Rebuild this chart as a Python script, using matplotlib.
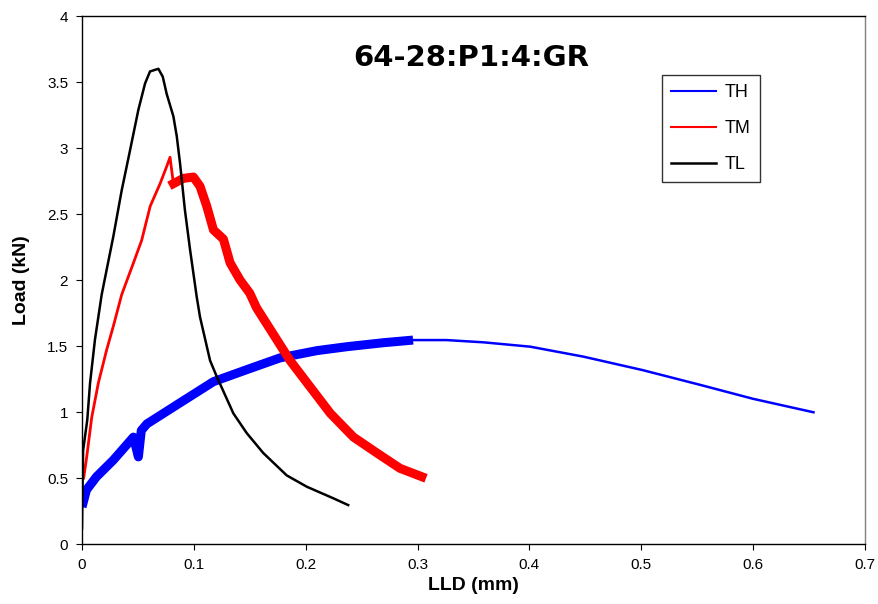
import numpy as np
import matplotlib.pyplot as plt

plt.rcParams['font.family'] = ['Liberation Sans', 'DejaVu Sans']

# TL (black)
tl_x = [0.0, 0.0005, 0.001, 0.0047, 0.0072, 0.0116, 0.0176, 0.028, 0.0355, 0.043,
        0.0504, 0.0564, 0.0608, 0.0645, 0.0683, 0.0722, 0.0757, 0.0817, 0.0847, 0.0877,
        0.092, 0.0966, 0.1026, 0.1055, 0.1145, 0.1204, 0.1353, 0.1473, 0.162, 0.183,
        0.201, 0.2248, 0.238]
tl_y = [0.12, 0.45, 0.71, 0.94, 1.22, 1.55, 1.89, 2.33, 2.68, 2.985,
        3.29, 3.49, 3.58, 3.59, 3.60, 3.54, 3.41, 3.24, 3.09, 2.88,
        2.53, 2.23, 1.87, 1.72, 1.39, 1.27, 0.99, 0.84, 0.69, 0.52,
        0.434, 0.346, 0.295]

# TM (red)
tm_x = [0.0015, 0.0042, 0.0087, 0.0146, 0.022, 0.028, 0.0355, 0.046, 0.0533, 0.061,
        0.0698, 0.0757, 0.0787, 0.0817, 0.0906, 0.0996, 0.1055, 0.1115, 0.1175, 0.1264,
        0.1324, 0.1413, 0.150, 0.156, 0.174, 0.186, 0.204, 0.222, 0.2427, 0.2636,
        0.2844, 0.3038]
tm_y = [0.5, 0.66, 0.96, 1.22, 1.47, 1.65, 1.89, 2.13, 2.30, 2.56,
        2.73, 2.86, 2.93, 2.73, 2.77, 2.78, 2.71, 2.56, 2.38, 2.31,
        2.13, 2.0, 1.9, 1.79, 1.55, 1.39, 1.19, 0.99, 0.81, 0.69,
        0.573, 0.51]

# TH (blue)
th_x = [0.0, 0.004, 0.013, 0.028, 0.046, 0.0504, 0.053, 0.058, 0.0877, 0.1175,
        0.147, 0.177, 0.21, 0.237, 0.2695, 0.296, 0.326, 0.359, 0.4007, 0.448,
        0.501, 0.553, 0.6, 0.654]
th_y = [0.28, 0.41, 0.51, 0.636, 0.81, 0.66, 0.86, 0.91, 1.07, 1.23,
        1.32, 1.41, 1.465, 1.495, 1.525, 1.545, 1.545, 1.528, 1.495, 1.42,
        1.318, 1.205, 1.10, 0.998]

fig = plt.figure(figsize=(8.79, 6.04), dpi=100)
ax = fig.add_axes([0.0933, 0.0993, 0.8907, 0.8742])

# noisy part of TH drawn as a thick band, the rest as a thin line
n_th = sum(1 for v in th_x if v <= 0.3)
ax.plot(th_x[:n_th], th_y[:n_th], color='#0000ff', lw=6.5, solid_capstyle='butt',
        solid_joinstyle='round')
ax.plot(th_x[n_th - 1:], th_y[n_th - 1:], color='#0000ff', lw=1.8)
ax.plot([], [], color='#0000ff', lw=1.5, label='TH')

n_tm = sum(1 for v in tm_x if v < 0.08)
ax.plot(tm_x[:n_tm + 1], tm_y[:n_tm + 1], color='#ff0000', lw=2)
ax.plot(tm_x[n_tm:], tm_y[n_tm:], color='#ff0000', lw=6.5, solid_joinstyle='round')
ax.plot([], [], color='#ff0000', lw=1.5, label='TM')

ax.plot(tl_x, tl_y, color='black', lw=1.8, label='TL')

ax.set_xlim(0, 0.7)
ax.set_ylim(0, 4)
ax.set_xticks(np.arange(0, 0.71, 0.1))
ax.set_xticklabels(['0', '0.1', '0.2', '0.3', '0.4', '0.5', '0.6', '0.7'])
ax.set_yticks(np.arange(0, 4.01, 0.5))
ax.set_yticklabels(['0', '0.5', '1', '1.5', '2', '2.5', '3', '3.5', '4'])
ax.tick_params(direction='out', length=4, labelsize=11, pad=6)
for s in ax.spines.values():
    s.set_linewidth(1.0)
ax.spines['right'].set_color('#808080')

ax.set_xlabel('LLD (mm)', fontsize=14, fontweight='bold', labelpad=4)
ax.set_ylabel('Load (kN)', fontsize=14, fontweight='bold', labelpad=12)
ax.text(0.497, 0.92, '64-28:P1:4:GR', transform=ax.transAxes, ha='center',
        va='center', fontsize=21, fontweight='bold', family='DejaVu Sans')

leg = ax.legend(loc='upper left', bbox_to_anchor=(0.7407, 0.888), fontsize=13,
                frameon=True, fancybox=False, edgecolor='black', handlelength=2.5,
                labelspacing=1.05, borderpad=0.5, handletextpad=0.5,
                borderaxespad=0)
leg.get_frame().set_linewidth(1.0)

fig.savefig('out.png', dpi=100)
